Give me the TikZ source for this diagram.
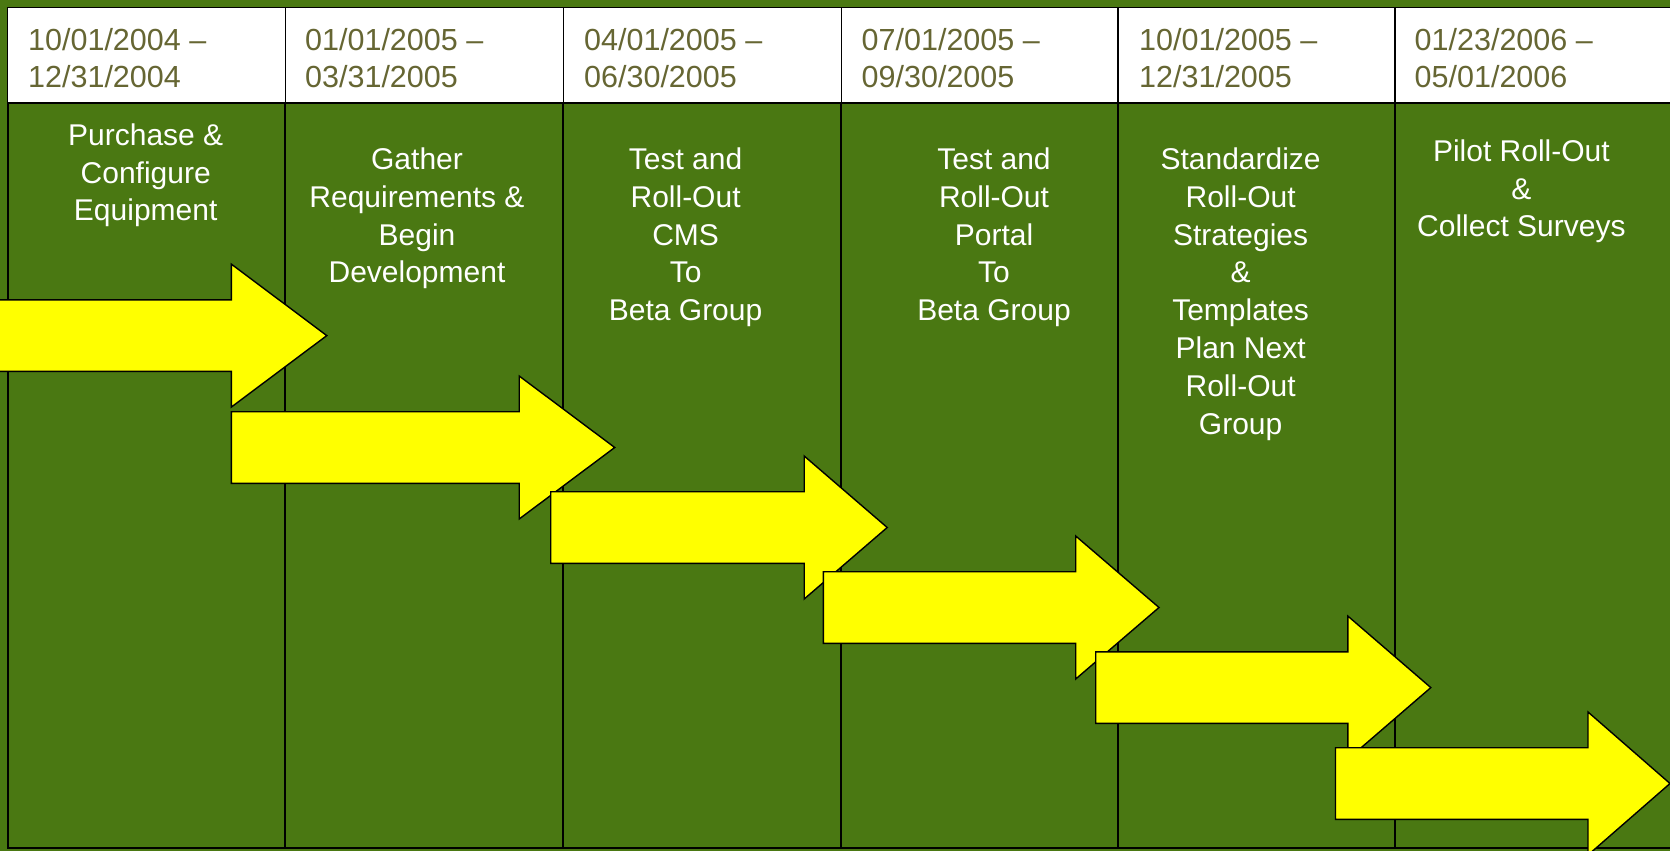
\documentclass[tikz,border=0pt]{standalone}
\usepackage{fontspec}
\setmainfont{Liberation Sans}
\definecolor{bggreen}{RGB}{74,120,18}
\definecolor{hdrtext}{RGB}{102,102,51}
\definecolor{arrowyellow}{RGB}{255,255,0}
\newcommand\fstrut{\rule{0pt}{22.5pt}}
\newcommand\yarrowshape[4]{% shaft left, head base, tip, centre y
  \draw[arrowst] ({#1},{#4-35.8}) -- ({#2},{#4-35.8}) -- ({#2},{#4-71.5}) -- ({#3},{#4})
    -- ({#2},{#4+71.5}) -- ({#2},{#4+35.8}) -- ({#1},{#4+35.8}) -- cycle;}
\tikzset{
  hdrbox/.style={fill=white, draw=black, line width=1.8pt},
  colbox/.style={draw=black, line width=2pt},
  hdrtxt/.style={anchor=north west, inner sep=0pt, align=left, text=hdrtext,
    font=\fontsize{30.5}{37.5}\selectfont},
  bodytxt/.style={anchor=north, inner sep=0pt, align=center, text=white,
    font=\fontsize{30}{37.8}\selectfont},
  arrowst/.style={fill=arrowyellow, draw=black, line width=1.4pt, line join=miter}
}
\begin{document}
\begin{tikzpicture}[x=1pt,y=-1pt]
\path[use as bounding box] (0,0) rectangle (1670,851);
\clip (0,0) rectangle (1670,851);
\fill[bggreen] (-5,-5) rectangle (1675,856);
% columns
\foreach \a/\b in {7.5/285.4, 285.4/563.4, 563.4/841.4, 841.4/1118.3, 1118.3/1395.3, 1395.3/1690}{
  \draw[colbox] (\a,103.3) rectangle (\b,848);
  \draw[hdrbox] (\a,7.5) rectangle (\b,103.3);
}
% header texts
\node[hdrtxt] (h1) at (28,27.5) {\fstrut10/01/2004 –\\12/31/2004};
\node[hdrtxt] (h2) at (305,27.5) {\fstrut01/01/2005 –\\03/31/2005};
\node[hdrtxt] (h3) at (584,27.5) {\fstrut04/01/2005 –\\06/30/2005};
\node[hdrtxt] (h4) at (861.5,27.5) {\fstrut07/01/2005 –\\09/30/2005};
\node[hdrtxt] (h5) at (1139,27.5) {\fstrut10/01/2005 –\\12/31/2005};
\node[hdrtxt] (h6) at (1414.5,27.5) {\fstrut01/23/2006 –\\05/01/2006};
% body texts
\node[bodytxt] (b1) at (145.7,122.5) {\fstrut Purchase \&\\Configure\\Equipment};
\node[bodytxt] (b2) at (417,146.8) {\fstrut Gather\\Requirements \&\\Begin\\Development};
\node[bodytxt] (b3) at (685.6,146.8) {\fstrut Test and\\Roll-Out\\CMS\\To\\Beta Group};
\node[bodytxt] (b4) at (994,146.8) {\fstrut Test and\\Roll-Out\\Portal\\To\\Beta Group};
\node[bodytxt] (b5) at (1240.6,146.8) {\fstrut Standardize\\Roll-Out\\Strategies\\\&\\Templates\\Plan Next\\Roll-Out\\Group};
\node[bodytxt] (b6) at (1521.4,138.5) {\fstrut Pilot Roll-Out\\\&\\Collect Surveys};
% arrows
\yarrowshape{-60}{231.3}{326.8}{335.6}
\yarrowshape{231.3}{519.2}{614.7}{447.5}
\yarrowshape{550.7}{804.2}{887.2}{527.5}
\yarrowshape{823.3}{1075.7}{1159}{607.5}
\yarrowshape{1095.7}{1347.9}{1430.8}{687.6}
\yarrowshape{1335.5}{1588}{1670}{783.5}
\end{tikzpicture}
\end{document}
